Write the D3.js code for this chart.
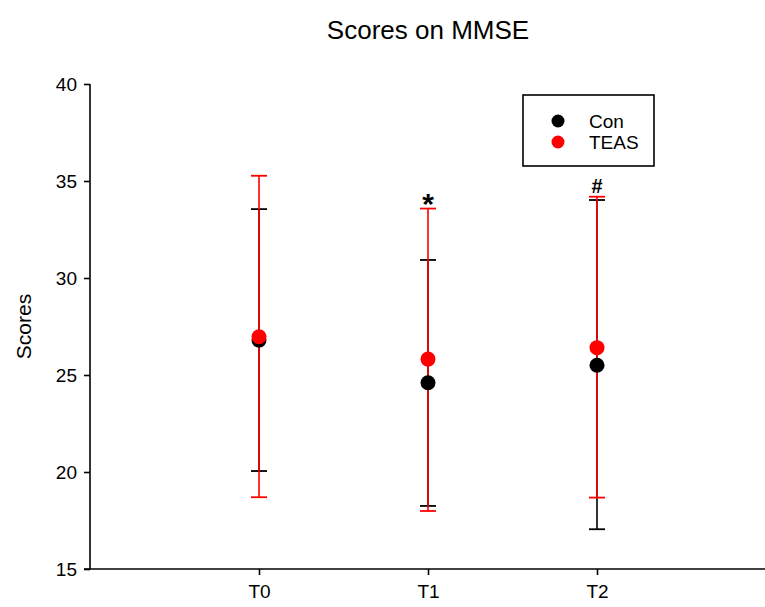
<!DOCTYPE html>
<html>
<head>
<meta charset="utf-8">
<script src="https://cdn.jsdelivr.net/npm/d3@7"></script>
<style>
  html, body { margin: 0; padding: 0; background: #fff; }
  svg { display: block; font-family: Arial, "Liberation Sans", sans-serif; }
</style>
</head>
<body>
<svg id="chart" width="765" height="607"></svg>
<script>
const categories = ["T0", "T1", "T2"];
const conMean  = [26.8, 24.6, 25.5];
const conUpper = [33.55, 30.93, 34.02];
const conLower = [20.05, 18.25, 17.05];
const teasMean  = [26.97, 25.82, 26.41];
const teasUpper = [35.27, 33.58, 34.19];
const teasLower = [18.7, 17.99, 18.68];
const yTicks = [15, 20, 25, 30, 35, 40];
const marks = [{cat: "T1", text: "*"}, {cat: "T2", text: "#"}];
const seriesNames = ["Con", "TEAS"];
const seriesColors = ["#000000", "#ff0000"];

(function () {
const svg = d3.select("#chart");
const mLeft = 90, mRight = 766, mTop = 84, mBottom = 569;
const FONT = "Arial, 'Liberation Sans', sans-serif";

const x = d3.scaleLinear().domain([0, categories.length + 1]).range([mLeft, mRight]);
const y = d3.scaleLinear().domain([15, 40]).range([mBottom, mTop]);
const xPos = c => x(categories.indexOf(c) + 1);

// Title
svg.append("text").attr("x", 428).attr("y", 39).attr("text-anchor", "middle")
  .attr("font-size", 26).attr("fill", "#000").text("Scores on MMSE");

// Y axis
const yAxis = svg.append("g").attr("transform", `translate(${mLeft},0)`)
  .call(d3.axisLeft(y).tickValues(yTicks).tickSize(6).tickPadding(7));
yAxis.select(".domain").attr("stroke-width", 1.6).attr("d", `M0,${mTop}V${mBottom}`);
yAxis.selectAll(".tick line").attr("stroke-width", 1.6);
yAxis.selectAll(".tick text").attr("font-size", 19).attr("font-family", FONT).attr("fill", "#000");

// X axis
const xAxis = svg.append("g").attr("transform", `translate(0,${mBottom})`)
  .call(d3.axisBottom(x).tickValues(categories.map((c, i) => i + 1))
    .tickFormat((d) => categories[d - 1]).tickSize(6).tickPadding(10));
xAxis.select(".domain").attr("stroke-width", 1.6).attr("d", `M${mLeft - 6},0H${mRight}`);
xAxis.selectAll(".tick line").attr("stroke-width", 1.6);
xAxis.selectAll(".tick text").attr("font-size", 19).attr("font-family", FONT).attr("fill", "#000");

// Y axis label
svg.append("text").attr("transform", `translate(31,${(mTop + mBottom) / 2}) rotate(-90)`)
  .attr("text-anchor", "middle").attr("font-size", 21).attr("fill", "#000").text("Scores");

// Series
const series = [
  {name: seriesNames[0], color: seriesColors[0], mean: conMean, upper: conUpper, lower: conLower},
  {name: seriesNames[1], color: seriesColors[1], mean: teasMean, upper: teasUpper, lower: teasLower}
];
const capW = 8;
series.forEach(s => {
  const g = svg.append("g");
  categories.forEach((c, i) => {
    const cx = xPos(c);
    g.append("line").attr("x1", cx).attr("x2", cx).attr("y1", y(s.upper[i])).attr("y2", y(s.lower[i]))
      .attr("stroke", s.color).attr("stroke-width", 1.6);
    [s.upper[i], s.lower[i]].forEach(v => {
      g.append("line").attr("x1", cx - capW).attr("x2", cx + capW).attr("y1", y(v)).attr("y2", y(v))
        .attr("stroke", s.color).attr("stroke-width", 1.8);
    });
  });
});
series.forEach(s => {
  categories.forEach((c, i) => {
    svg.append("circle").attr("cx", xPos(c)).attr("cy", y(s.mean[i])).attr("r", 7.5).attr("fill", s.color);
  });
});

// Significance marks
marks.forEach(m => {
  const i = categories.indexOf(m.cat);
  const isStar = m.text === "*";
  svg.append("text").attr("x", xPos(m.cat)).attr("y", y(Math.max(conUpper[i], teasUpper[i])) - 4)
    .attr("text-anchor", "middle").attr("font-weight", "bold")
    .attr("font-size", isStar ? 30 : 20).attr("dy", isStar ? "0.3em" : "0")
    .attr("fill", "#000").text(m.text);
});

// Legend
const lg = svg.append("g");
lg.append("rect").attr("x", 523).attr("y", 95).attr("width", 131).attr("height", 71)
  .attr("fill", "#fff").attr("stroke", "#000").attr("stroke-width", 1.6);
series.forEach((s, i) => {
  const ly = 121 + i * 21;
  lg.append("circle").attr("cx", 558).attr("cy", ly).attr("r", 6.5).attr("fill", s.color);
  lg.append("text").attr("x", 589).attr("y", ly + 7).attr("font-size", 19).attr("fill", "#000").text(s.name);
});
})();
</script>
</body>
</html>
